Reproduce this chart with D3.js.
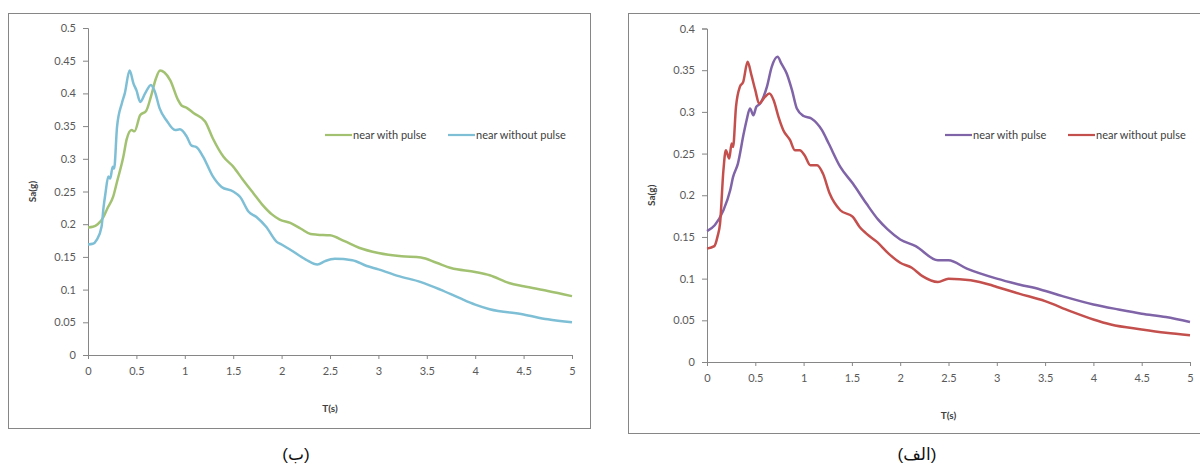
<!DOCTYPE html>
<html>
<head>
<meta charset="utf-8">
<script src="https://cdn.jsdelivr.net/npm/d3@7"></script>
<style>
  body { margin: 0; background: #fff; }
  .tick text { font-family: Lato, "Open Sans", sans-serif; font-size: 11px; fill: #595959; }
  .axis-title { font-family: Lato, "Open Sans", sans-serif; font-size: 10px; font-weight: bold; fill: #404040; }
  .legend text { font-family: Lato, "Open Sans", sans-serif; font-size: 11px; fill: #404040; }
  .caption { font-family: "Liberation Sans", "DejaVu Sans", sans-serif; font-size: 17px; fill: #111; }
</style>
</head>
<body>
<svg class="scene"></svg>
<script>

//
// data
//

var seriesNames = ["near with pulse", "near without pulse"];
var xTicks = [0, 0.5, 1, 1.5, 2, 2.5, 3, 3.5, 4, 4.5, 5];
var yTicksB = [0, 0.05, 0.1, 0.15, 0.2, 0.25, 0.3, 0.35, 0.4, 0.45, 0.5];
var yTicksA = [0, 0.05, 0.1, 0.15, 0.2, 0.25, 0.3, 0.35, 0.4];

// chart (ب): [T, Sa]
var withPulseB = [[0,0.195],[0.05,0.196],[0.1,0.2],[0.16,0.211],[0.2,0.224],[0.26,0.242],[0.3,0.265],
    [0.365,0.303],[0.4,0.33],[0.45,0.344],[0.48,0.342],[0.54,0.367],[0.6,0.373],[0.65,0.395],[0.7,0.422],
    [0.744,0.435],[0.79,0.432],[0.85,0.42],[0.93,0.39],[0.97,0.381],[1.02,0.378],[1.09,0.37],[1.21,0.357],
    [1.29,0.331],[1.4,0.303],[1.5,0.288],[1.6,0.268],[1.71,0.247],[1.8,0.23],[1.9,0.215],[1.98,0.207],
    [2.09,0.202],[2.2,0.193],[2.3,0.185],[2.37,0.184],[2.5,0.183],[2.65,0.174],[2.8,0.164],[3,0.156],
    [3.24,0.151],[3.44,0.149],[3.6,0.141],[3.75,0.133],[4,0.127],[4.15,0.122],[4.35,0.11],[4.5,0.105],
    [4.75,0.098],[5,0.09]];
var withoutPulseB = [[0,0.169],[0.05,0.17],[0.09,0.176],[0.14,0.196],[0.16,0.225],[0.18,0.247],[0.21,0.273],
    [0.23,0.27],[0.255,0.288],[0.27,0.285],[0.3,0.349],[0.35,0.385],[0.38,0.4],[0.43,0.435],[0.47,0.415],
    [0.5,0.405],[0.54,0.387],[0.59,0.4],[0.65,0.413],[0.69,0.403],[0.74,0.377],[0.81,0.359],[0.9,0.344],
    [0.95,0.345],[1.02,0.334],[1.07,0.32],[1.12,0.318],[1.19,0.303],[1.29,0.273],[1.38,0.257],[1.5,0.25],
    [1.57,0.242],[1.66,0.219],[1.74,0.211],[1.84,0.196],[1.95,0.173],[2,0.169],[2.09,0.161],[2.25,0.146],
    [2.37,0.1385],[2.45,0.1436],[2.55,0.147],[2.73,0.145],[2.88,0.136],[3,0.131],[3.2,0.121],[3.44,0.1115],
    [3.64,0.1],[3.83,0.0876],[4,0.077],[4.15,0.07],[4.5,0.062],[4.75,0.0545],[5,0.05]];

// chart (الف): [T, Sa]
var withPulseA = [[0,0.157],[0.08,0.164],[0.17,0.182],[0.24,0.206],[0.27,0.222],[0.32,0.238],[0.38,0.274],
    [0.41,0.29],[0.445,0.304],[0.48,0.296],[0.51,0.306],[0.55,0.31],[0.62,0.33],[0.67,0.354],[0.73,0.366],
    [0.77,0.358],[0.825,0.346],[0.88,0.326],[0.93,0.304],[1,0.295],[1.08,0.292],[1.19,0.278],[1.26,0.262],
    [1.38,0.234],[1.51,0.214],[1.65,0.19],[1.77,0.171],[1.87,0.159],[2,0.147],[2.16,0.139],[2.39,0.122],
    [2.5,0.122],[2.69,0.112],[3,0.1],[3.23,0.093],[3.45,0.087],[3.68,0.079],[4,0.069],[4.26,0.063],
    [4.5,0.058],[4.75,0.054],[5,0.048]];
var withoutPulseA = [[0,0.136],[0.076,0.139],[0.11,0.151],[0.135,0.166],[0.17,0.23],[0.195,0.254],[0.23,0.244],
    [0.255,0.262],[0.27,0.258],[0.3,0.306],[0.34,0.33],[0.375,0.336],[0.42,0.36],[0.46,0.344],[0.5,0.326],
    [0.54,0.31],[0.6,0.318],[0.645,0.322],[0.69,0.314],[0.74,0.294],[0.79,0.278],[0.86,0.266],[0.91,0.254],
    [0.96,0.254],[1.01,0.248],[1.07,0.236],[1.14,0.236],[1.2,0.226],[1.27,0.202],[1.38,0.182],[1.51,0.174],
    [1.58,0.162],[1.65,0.154],[1.76,0.144],[1.88,0.13],[2,0.119],[2.12,0.113],[2.23,0.103],[2.39,0.096],
    [2.5,0.1],[2.73,0.098],[2.92,0.093],[3,0.09],[3.23,0.082],[3.5,0.073],[3.76,0.061],[4,0.051],
    [4.18,0.045],[4.5,0.039],[4.75,0.035],[5,0.032]];

//
// scene
//

var width = 1200,
    height = 465;

var scene = d3.select(".scene")
    .attr("width", width)
    .attr("height", height);

var axisColor = "#868686";

function drawChart(cfg) {
    // outer frame
    scene.append("rect")
        .attr("x", cfg.frame[0] + 0.5)
        .attr("y", cfg.frame[1] + 0.5)
        .attr("width", cfg.frame[2])
        .attr("height", cfg.frame[3])
        .attr("fill", "none")
        .attr("stroke", axisColor)
        .attr("stroke-width", 1);

    var x = d3.scaleLinear().domain([0, 5]).range([cfg.plot[0], cfg.plot[1]]);
    var y = d3.scaleLinear().domain([0, cfg.yMax]).range([cfg.plot[3], cfg.plot[2]]);

    var fmt = function (d) { return d3.format("")(+d.toFixed(2)); };

    var gx = scene.append("g")
        .attr("transform", "translate(0," + cfg.plot[3] + ")")
        .call(d3.axisBottom(x).tickValues(xTicks).tickFormat(fmt).tickSize(4).tickPadding(8));
    var gy = scene.append("g")
        .attr("transform", "translate(" + cfg.plot[0] + ",0)")
        .call(d3.axisLeft(y).tickValues(cfg.yTicks).tickFormat(fmt).tickSize(5).tickPadding(7));
    [gx, gy].forEach(function (g) {
        g.select(".domain").attr("stroke", axisColor);
        g.selectAll(".tick line").attr("stroke", axisColor);
    });

    // axis titles
    scene.append("text")
        .attr("class", "axis-title")
        .attr("x", (cfg.plot[0] + cfg.plot[1]) / 2)
        .attr("y", cfg.plot[3] + 57)
        .attr("text-anchor", "middle")
        .text("T(s)");
    scene.append("text")
        .attr("class", "axis-title")
        .attr("transform", "translate(" + (cfg.plot[0] - 52) + "," + ((cfg.plot[2] + cfg.plot[3]) / 2) + ") rotate(-90)")
        .attr("text-anchor", "middle")
        .text("Sa(g)");

    // lines
    var line = d3.line()
        .x(function (d) { return x(d[0]); })
        .y(function (d) { return y(d[1]); })
        .curve(d3.curveMonotoneX);

    cfg.series.forEach(function (s, i) {
        scene.append("path")
            .datum(s)
            .attr("fill", "none")
            .attr("stroke", cfg.colors[i])
            .attr("stroke-width", 2.5)
            .attr("stroke-linejoin", "round")
            .attr("d", line);
    });

    // legend
    var legend = scene.append("g").attr("class", "legend");
    seriesNames.forEach(function (name, i) {
        var lx = cfg.legend[i];
        legend.append("line")
            .attr("x1", lx).attr("x2", lx + 27)
            .attr("y1", cfg.legendY).attr("y2", cfg.legendY)
            .attr("stroke", cfg.colors[i])
            .attr("stroke-width", 2.2);
        legend.append("text")
            .attr("x", lx + 28)
            .attr("y", cfg.legendY + 4)
            .text(name);
    });

    // caption
    scene.append("text")
        .attr("class", "caption")
        .attr("x", cfg.caption[0])
        .attr("y", cfg.caption[1])
        .attr("text-anchor", "middle")
        .text(cfg.captionText);
}

drawChart({
    frame: [8, 13, 582, 415],
    plot: [88, 572, 28, 355],
    yMax: 0.5,
    yTicks: yTicksB,
    series: [withPulseB, withoutPulseB],
    colors: ["#A2C272", "#7EBFD6"],
    legend: [325, 448],
    legendY: 135,
    caption: [296, 460],
    captionText: "(ب)"
});

drawChart({
    frame: [628, 13, 600, 420],
    plot: [707, 1190, 28.5, 362],
    yMax: 0.4,
    yTicks: yTicksA,
    series: [withPulseA, withoutPulseA],
    colors: ["#8064A8", "#C4504E"],
    legend: [945, 1068],
    legendY: 135,
    caption: [917, 460],
    captionText: "(الف)"
});

</script>
</body>
</html>
